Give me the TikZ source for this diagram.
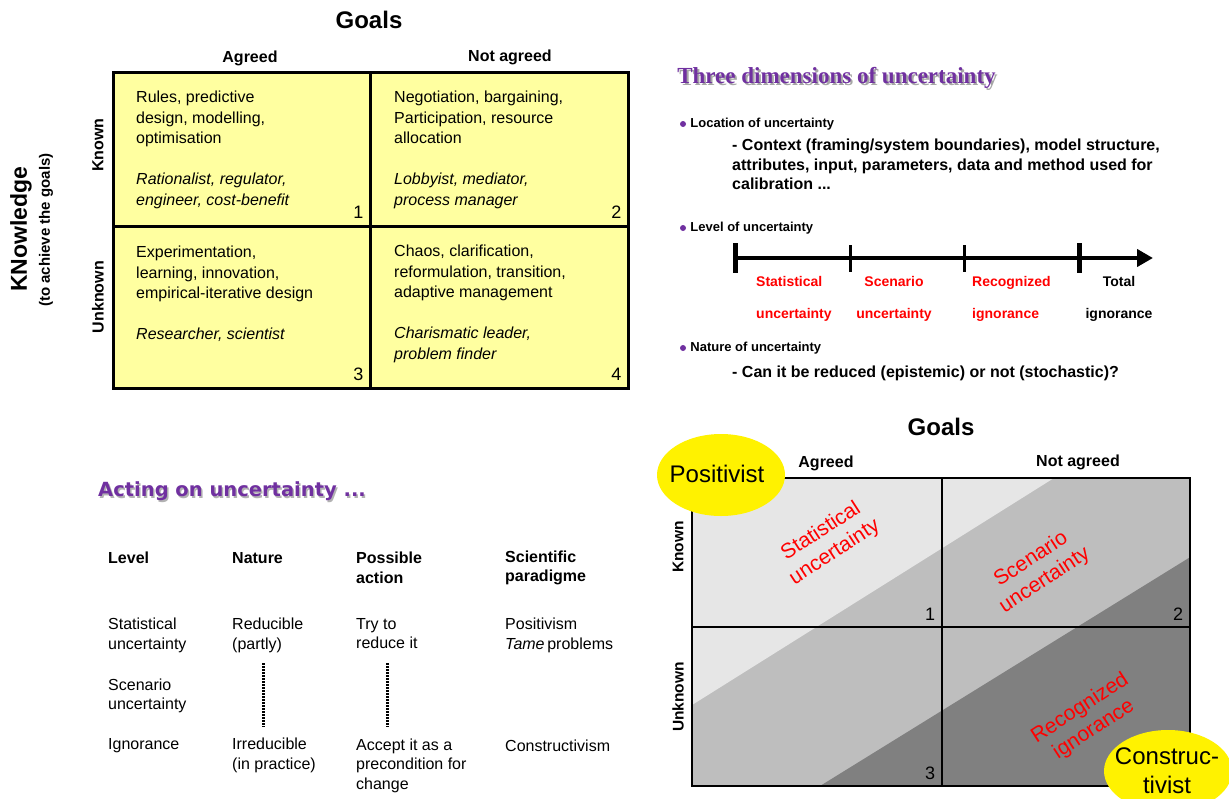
\documentclass[tikz,border=0pt]{standalone}
\usepackage{fontspec}
\setmainfont{Liberation Sans}
\newfontfamily\serifbold{Liberation Serif}
\newfontfamily\verdanalike{DejaVu Sans}
\usetikzlibrary{positioning, shapes.geometric, arrows.meta}
\definecolor{cellyellow}{HTML}{FFFFA0}
\definecolor{headpurple}{HTML}{7030A0}
\definecolor{bandlight}{HTML}{E6E6E6}
\definecolor{bandmid}{HTML}{BEBEBE}
\definecolor{banddark}{HTML}{808080}
\newcommand{\fs}[2]{\fontsize{#1}{#2}\selectfont}
\tikzset{
  % matrix cells
  ycell/.style={draw, line width=3pt, fill=cellyellow, inner sep=0pt},
  gcell/.style={draw, line width=2.5pt, inner sep=0pt},
  % texts
  celltxt/.style={anchor=west, align=left, inner sep=0pt, font=\fs{16}{20.5}},
  tabtxt/.style={anchor=west, align=left, inner sep=0pt, font=\fs{16}{19.5}},
  tabhead/.style={tabtxt, font=\fs{16}{19.5}\bfseries},
  axlabel/.style={inner sep=0pt, align=center, font=\fs{14}{32}\bfseries, text=red},
  redtxt/.style={text=red, align=center, rotate=33, inner sep=0pt, font=\fs{21}{25}},
  cellnum/.style={anchor=south east, inner sep=0pt, font=\fs{18}{18}},
  colhead/.style={inner sep=0pt, font=\fs{16}{16}\bfseries},
  rowhead/.style={inner sep=0pt, rotate=90, font=\fs{16}{16}\bfseries},
  dimlabel/.style={anchor=west, inner sep=0pt, font=\fs{13}{13}\bfseries},
  dimtxt/.style={anchor=west, align=left, inner sep=0pt, font=\fs{16}{19.5}\bfseries},
  bul/.style={circle, fill=headpurple, inner sep=0pt, minimum size=6pt},
  blob/.style={ellipse, fill=yellow, inner sep=0pt},
  blobtxt/.style={inner sep=0pt, align=center, font=\fs{24}{29}},
  dots/.style={line width=3pt, dash pattern=on 1.6pt off 1.4pt},
}
\begin{document}
\begin{tikzpicture}[x=1pt, y=-1pt]
\useasboundingbox (0,0) rectangle (1229,798);

% goals / knowledge matrix
\node[ycell, minimum width=257pt, minimum height=154pt] (k1) at (241.5,149) {};
\node[ycell, minimum width=258pt, minimum height=154pt] (k2) at (499,149) {};
\node[ycell, minimum width=257pt, minimum height=162pt] (k3) at (241.5,307) {};
\node[ycell, minimum width=258pt, minimum height=162pt] (k4) at (499,307) {};

\node[inner sep=0pt, font=\fs{24}{24}\bfseries] (goalsA) at (369,20) {Goals};
\node[colhead] (agreedA) at (250,58) {Agreed};
\node[colhead] (notagreedA) at (510,57) {Not agreed};
\node[rowhead] (knownA) at (98,145) {Known};
\node[rowhead] (unknownA) at (98,297) {Unknown};
\node[inner sep=0pt, rotate=90, font=\fs{23}{23}\bfseries] (knowl) at (21,229) {KNowledge};
\node[inner sep=0pt, rotate=90, font=\fs{15}{15}\bfseries] (knowlsub) at (46,230) {(to achieve the goals)};

\node[celltxt] (q1) at (136,150) {Rules, predictive\\design, modelling,\\optimisation\\[20.5pt]
  \textit{Rationalist, regulator,}\\\textit{engineer, cost-benefit}};
\node[celltxt] (q2) at (394,150) {Negotiation, bargaining,\\Participation, resource\\allocation\\[20.5pt]
  \textit{Lobbyist, mediator,}\\\textit{process manager}};
\node[celltxt] (q3) at (136,294) {Experimentation,\\learning, innovation,\\empirical-iterative design\\[20.5pt]
  \textit{Researcher, scientist}};
\node[celltxt] (q4) at (394,304) {Chaos, clarification,\\reformulation, transition,\\adaptive management\\[20.5pt]
  \textit{Charismatic leader,}\\\textit{problem finder}};

\node[cellnum] (n1) at ([xshift=-8pt,yshift=8.5pt]k1.south east) {1};
\node[cellnum] (n2) at ([xshift=-8pt,yshift=8.5pt]k2.south east) {2};
\node[cellnum] (n3) at ([xshift=-8pt,yshift=8.5pt]k3.south east) {3};
\node[cellnum] (n4) at ([xshift=-8pt,yshift=8.5pt]k4.south east) {4};

% three dimensions
\node[inner sep=0pt, font=\serifbold\bfseries\fs{23}{23}, text=black!35] (dimshadow) at (838.5,80) {Three dimensions of uncertainty};
\node[inner sep=0pt, font=\serifbold\bfseries\fs{23}{23}, text=headpurple] (dimtitle) at (836.5,78) {Three dimensions of uncertainty};

\node[bul] (bul1) at (683,124) {};
\node[dimlabel, right=4pt of bul1] (loc) {Location of uncertainty};
\node[dimtxt] (ctx) at (732,164.5)
  {- Context (framing/system boundaries), model structure,\\attributes, input, parameters, data and method used for\\calibration ...};

\node[bul] (bul2) at (683,228) {};
\node[dimlabel, right=4pt of bul2] (lev) {Level of uncertainty};
\coordinate (t1) at (735,258);
\coordinate (t2) at (850,258);
\coordinate (t3) at (964,258);
\coordinate (t4) at (1079,258);
\coordinate (tend) at (1153,258);
\draw[line width=4pt, -{Triangle[length=16pt,width=17pt]}] (t1) -- (tend);
\draw[line width=5pt] ([yshift=15pt]t1) -- ([yshift=-15pt]t1);
\draw[line width=3pt] ([yshift=13pt]t2) -- ([yshift=-14pt]t2);
\draw[line width=3pt] ([yshift=13pt]t3) -- ([yshift=-14pt]t3);
\draw[line width=5pt] ([yshift=15pt]t4) -- ([yshift=-15pt]t4);
\node[axlabel, anchor=west, align=left] (lv1) at (756,299) {Statistical\\uncertainty};
\node[axlabel] (lv2) at (894,299) {Scenario\\uncertainty};
\node[axlabel, anchor=west, align=left] (lv3) at (972,299) {Recognized\\ignorance};
\node[axlabel, text=black] (lv4) at (1119,299) {Total\\ignorance};

\node[bul] (bul3) at (683,348) {};
\node[dimlabel, right=4pt of bul3] (nat) {Nature of uncertainty};
\node[dimtxt] (can) at (732,373)
  {- Can it be reduced (epistemic) or not (stochastic)?};

% acting on uncertainty
\node[anchor=west, inner sep=0pt, font=\verdanalike\bfseries\fs{19.5}{19.5}, text=black!30] (actshadow) at (99.5,493) {Acting on uncertainty ...};
\node[anchor=west, inner sep=0pt, font=\verdanalike\bfseries\fs{19.5}{19.5}, text=headpurple] (acting) at (98,491) {Acting on uncertainty ...};

\node[tabhead] (hlevel) at (108,558) {Level};
\node[tabhead] (hnature) at (232,558) {Nature};
\node[tabhead] (haction) at (356,567.8) {Possible\\action};
\node[tabhead] (hparad) at (505,567.8) {Scientific\\paradigme};

\node[tabtxt] (r1a) at (108,635.5) {Statistical\\uncertainty};
\node[tabtxt] (r1b) at (232,635.5) {Reducible\\(partly)};
\node[tabtxt] (r1c) at (356,633.5) {Try to\\reduce it};
\node[tabtxt] (r1d) at (505,635.5) {Positivism\\\textit{Tame}\,problems};
\node[tabtxt] (r2a) at (108,696) {Scenario\\uncertainty};
\node[tabtxt] (r3a) at (108,746) {Ignorance};
\node[tabtxt] (r3b) at (232,755.5) {Irreducible\\(in practice)};
\node[tabtxt] (r3c) at (356,765.5) {Accept it as a\\precondition for\\change};
\node[tabtxt] (r3d) at (505,746) {Constructivism};

\coordinate (dA1) at (263,663);
\coordinate (dA2) at (263,727);
\coordinate (dB1) at (387,663);
\coordinate (dB2) at (387,727);
\draw[dots] (dA1) -- (dA2);
\draw[dots] (dB1) -- (dB2);

% shaded matrix
\begin{scope}
  \clip (692,478) rectangle (1190,786);
  \fill[bandmid] (692,478) rectangle (1190,786);
  \fill[bandlight] (692,478) -- (1054,478) -- (692,705) -- cycle;
  \fill[banddark] (820,786) -- (1192,556) -- (1192,786) -- cycle;
\end{scope}
\node[gcell, minimum width=250pt, minimum height=149pt] (g1) at (817,552.5) {};
\node[gcell, minimum width=248pt, minimum height=149pt] (g2) at (1066,552.5) {};
\node[gcell, minimum width=250pt, minimum height=159pt] (g3) at (817,706.5) {};
\node[gcell, minimum width=248pt, minimum height=159pt] (g4) at (1066,706.5) {};

\node[inner sep=0pt, font=\fs{24}{24}\bfseries] (goalsB) at (941,427) {Goals};
\node[colhead] (agreedB) at (826,463) {Agreed};
\node[colhead] (notagreedB) at (1078,462) {Not agreed};
\node[rowhead, font=\fs{15.5}{15.5}\bfseries] (knownB) at (678,547) {Known};
\node[rowhead, font=\fs{15.5}{15.5}\bfseries] (unknownB) at (678,697) {Unknown};

\node[redtxt] (statu) at (828,542) {Statistical\\uncertainty};
\node[redtxt] (scenu) at (1038,570) {Scenario\\uncertainty};
\node[redtxt] (recig) at (1087,719) {Recognized\\ignorance};

\node[cellnum] (m1) at ([xshift=-8pt,yshift=7.5pt]g1.south east) {1};
\node[cellnum] (m2) at ([xshift=-8pt,yshift=7.5pt]g2.south east) {2};
\node[cellnum] (m3) at ([xshift=-8pt,yshift=7.5pt]g3.south east) {3};

\node[blob, minimum width=128pt, minimum height=82pt] (posi) at (721,475) {};
\node[blobtxt] (positxt) at (717,474) {Positivist};
\node[blob, minimum width=128pt, minimum height=82pt] (cons) at (1168,771) {};
\node[blobtxt] (constxt) at (1167,771) {Construc-\\tivist};
\end{tikzpicture}
\end{document}
